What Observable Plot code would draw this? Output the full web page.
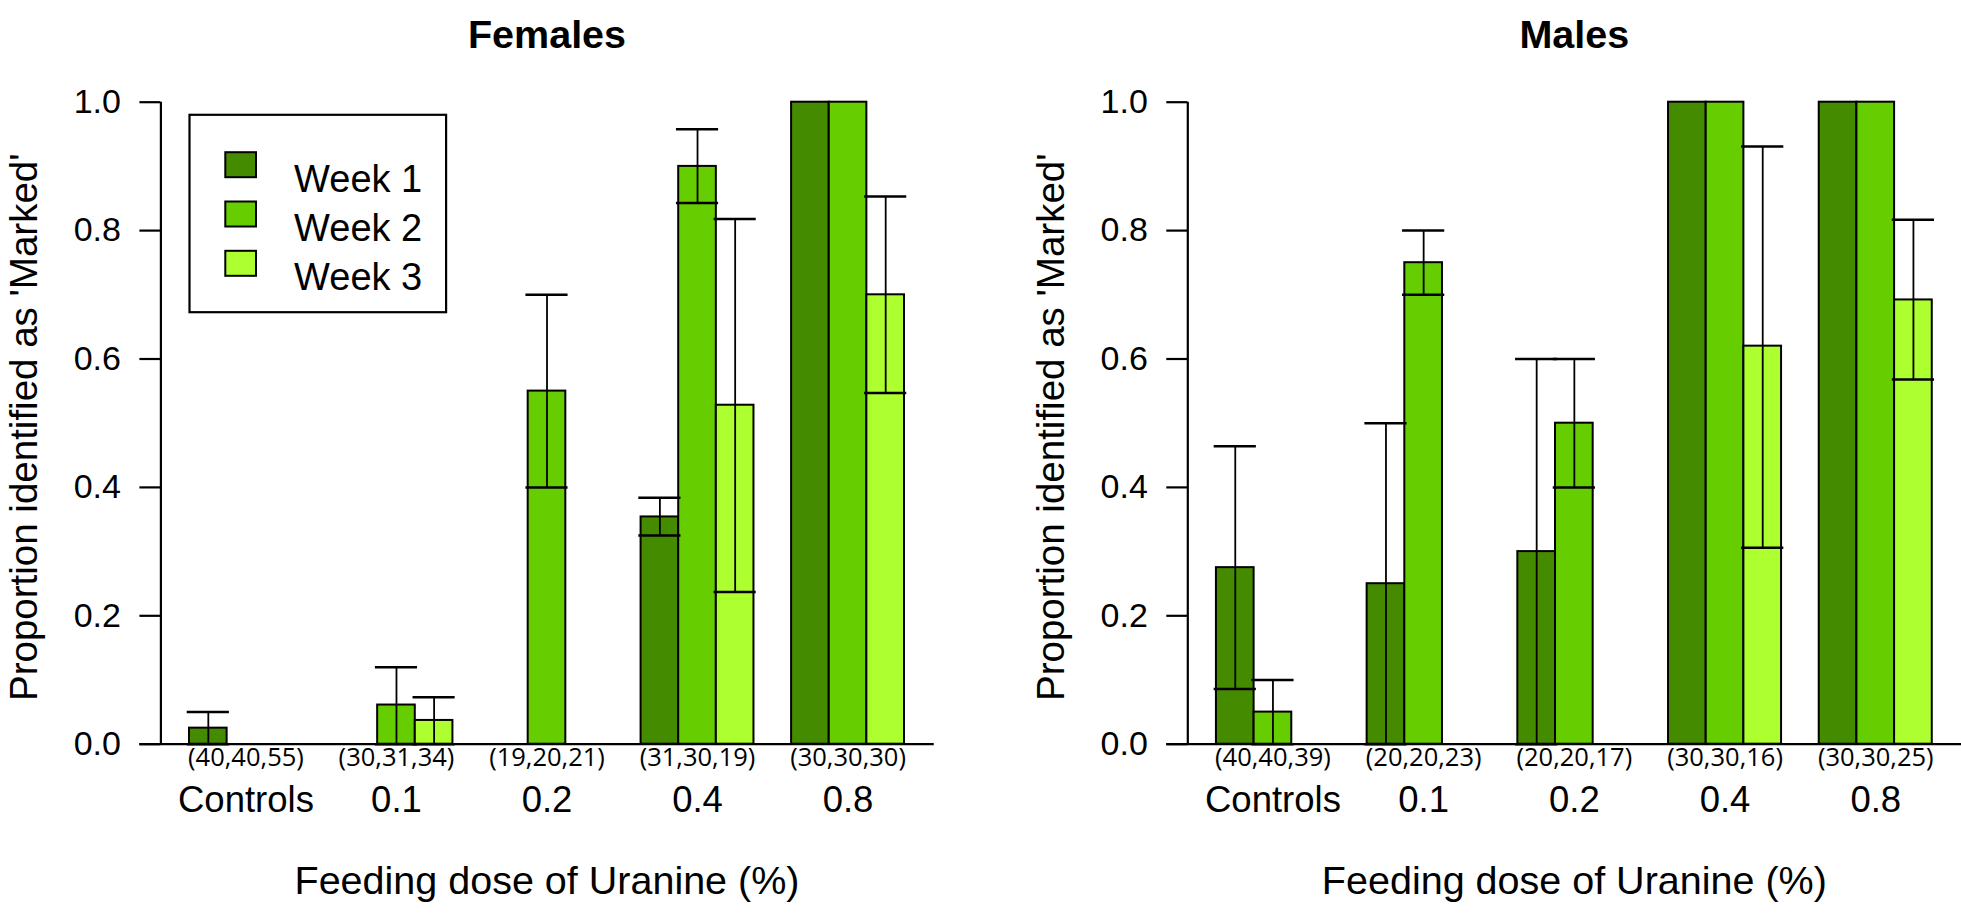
<!DOCTYPE html>
<html><head><meta charset="utf-8">
<script src="https://cdn.jsdelivr.net/npm/d3@7"></script>
<script src="https://cdn.jsdelivr.net/npm/@observablehq/plot@0.6"></script>
<style>
body{margin:0;background:#fff;}
#wrap{position:relative;width:1961px;height:916px;overflow:hidden;background:#fff;}
.panel{position:absolute;top:0;}
</style></head><body>
<div id="wrap"><div class="panel" id="p0" style="left:0;width:980px"></div><div class="panel" id="p1" style="left:980px;width:981px"></div></div>
<script>
const doses = ["Controls", "0.1", "0.2", "0.4", "0.8"];
const weeks = ["Week 1", "Week 2", "Week 3"];
const weekColors = ["#458B00", "#66CD00", "#ADFF2F"];
const panelTitles = ["Females", "Males"];
const femaleN = ["(40,40,55)", "(30,31,34)", "(19,20,21)", "(31,30,19)", "(30,30,30)"];
const maleN = ["(40,40,39)", "(20,20,23)", "(20,20,17)", "(30,30,16)", "(30,30,25)"];
// proportion identified as marked: rows = dose, columns = week
const femaleValues = [[0.025, 0, 0], [0, 0.061, 0.037], [0, 0.55, 0], [0.354, 0.9, 0.528], [1, 1, 0.7]];
const femaleLower  = [[0, null, null], [null, 0, 0], [null, 0.40, null], [0.325, 0.843, 0.237], [null, null, 0.547]];
const femaleUpper  = [[0.05, null, null], [null, 0.12, 0.073], [null, 0.70, null], [0.384, 0.958, 0.818], [null, null, 0.853]];
const maleValues = [[0.275, 0.05, 0], [0.25, 0.75, 0], [0.30, 0.50, 0], [1, 1, 0.62], [1, 1, 0.692]];
const maleLower  = [[0.086, 0, null], [0, 0.70, null], [0, 0.40, null], [null, null, 0.306], [null, null, 0.568]];
const maleUpper  = [[0.464, 0.10, null], [0.50, 0.80, null], [0.60, 0.60, null], [null, null, 0.931], [null, null, 0.817]];
const yTicks = [0, 0.2, 0.4, 0.6, 0.8, 1.0];
const xLabel = "Feeding dose of Uranine (%)";
const yLabel = "Proportion identified as 'Marked'";

const FONT = "'Liberation Sans', Arial, Helvetica, sans-serif";

function panel({values, lower, upper, counts, title, width, marginLeft, marginRight, legend}) {
  const rows = [];
  doses.forEach((d, i) => weeks.forEach((w, j) => rows.push({dose: d, week: w, i, j, value: values[i][j], lo: lower[i][j], hi: upper[i][j]})));
  // R barplot(beside=TRUE, space=c(0,1)): one empty slot before each group of three bars
  const slot = r => 4 * r.i + 1 + r.j;
  const errs = rows.filter(r => r.hi != null);
  const groups = doses.map((d, i) => ({dose: d, n: counts[i], mid: 4 * i + 2.5}));
  const capHalf = 0.56;
  const top = 101.7, bottom = 916 - 743.7;
  const frameW = width - marginLeft - marginRight;
  const plotH = 916 - top - bottom;
  const marks = [
    Plot.ruleY([0], {x1: -0.32, x2: 20.79, strokeWidth: 2.2}),
    Plot.rect(rows, {x1: slot, x2: r => slot(r) + 1, y1: 0, y2: "value", fill: "week", stroke: "black", strokeWidth: 2}),
    Plot.ruleX(errs, {x: r => slot(r) + 0.5, y1: "lo", y2: "hi", strokeWidth: 1.8}),
    Plot.ruleY(errs, {y: "hi", x1: r => slot(r) + 0.5 - capHalf, x2: r => slot(r) + 0.5 + capHalf, strokeWidth: 2.5}),
    Plot.ruleY(errs, {y: "lo", x1: r => slot(r) + 0.5 - capHalf, x2: r => slot(r) + 0.5 + capHalf, strokeWidth: 2.5}),
    Plot.ruleX([0.24], {y1: 0, y2: 1, strokeWidth: 2.2}),
    Plot.axisY({ticks: yTicks, tickSize: 21, tickPadding: 19, tickFormat: d3.format(".1f"), fontSize: 34, label: null, strokeWidth: 2.2}),
    Plot.text(groups, {x: "mid", text: "n", frameAnchor: "bottom", dy: 22, fontFamily: "'Open Sans', sans-serif", fontSize: 25.5}),
    Plot.text(groups, {x: "mid", text: "dose", frameAnchor: "bottom", dy: 68, fontSize: 36.5}),
    Plot.text([xLabel], {frameAnchor: "bottom", dy: 150, fontSize: 39.5}),
    Plot.text([yLabel], {frameAnchor: "left", textAnchor: "middle", rotate: -90, dx: -136, dy: 4, fontSize: 38.5}),
    Plot.text([title], {frameAnchor: "top", dy: -82, fontSize: 39.5, fontWeight: "bold"})
  ];
  if (legend) {
    const boxL = 189 - marginLeft, boxR = 445.6 - marginLeft, boxT = 114.3 - top, boxB = 311.7 - top;
    marks.push(Plot.frame({insetLeft: boxL, insetRight: frameW - boxR, insetTop: boxT, insetBottom: plotH - boxB, stroke: "black", strokeWidth: 2.2, fill: "white"}));
    weeks.forEach((w, j) => {
      const c = 164.2 + 49.3 * j - top;
      marks.push(Plot.frame({insetLeft: 224.8 - marginLeft, insetRight: frameW - (255.5 - marginLeft), insetTop: c - 12.5, insetBottom: plotH - (c + 12.5), fill: weekColors[j], stroke: "black", strokeWidth: 2}));
      marks.push(Plot.text([w], {frameAnchor: "top-left", textAnchor: "start", dx: 293.6 - marginLeft, dy: c, fontSize: 38}));
    });
  }
  return Plot.plot({
    width, height: 916,
    marginLeft, marginRight, marginTop: top, marginBottom: bottom,
    x: {domain: [0.24, 20.76], axis: null},
    y: {domain: [0, 1], label: null},
    color: {domain: weeks, range: weekColors},
    style: {fontFamily: FONT, color: "black", background: "white", overflow: "visible"},
    marks
  });
}

document.getElementById("p0").append(panel({values: femaleValues, lower: femaleLower, upper: femaleUpper, counts: femaleN, title: panelTitles[0], width: 980, marginLeft: 160.4, marginRight: 980 - 932.6, legend: true}));
document.getElementById("p1").append(panel({values: maleValues, lower: maleLower, upper: maleUpper, counts: maleN, title: panelTitles[1], width: 981, marginLeft: 207.3, marginRight: 981 - 980.4, legend: false}));
</script>
</body></html>
